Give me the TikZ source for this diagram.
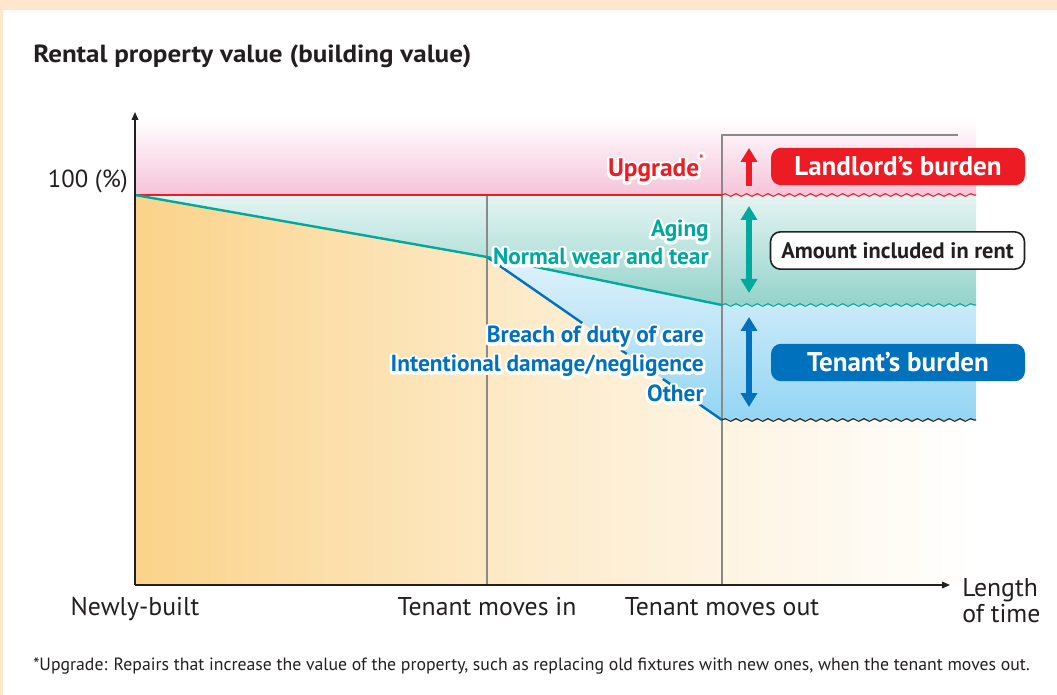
\documentclass[tikz,border=0pt]{standalone}
\usepackage{fontspec}
\setmainfont{PT Sans}
\usetikzlibrary{arrows.meta,decorations.pathmorphing}
\definecolor{peachC}{HTML}{FFE6CC}
\definecolor{redC}{HTML}{ED1C24}
\definecolor{tealC}{HTML}{00A99D}
\definecolor{blueC}{HTML}{0071BC}
\definecolor{orangeC}{HTML}{FBD38A}
\definecolor{pinkC}{HTML}{F6C3D9}
\definecolor{tealTop}{HTML}{E4F4F2}
\definecolor{tealBot}{HTML}{94D3CB}
\definecolor{blueTop}{HTML}{E0F2FB}
\definecolor{blueBot}{HTML}{93D5F3}
\definecolor{grayC}{HTML}{8A8A8A}
\definecolor{textC}{HTML}{231F20}
\newcommand\halotext[1]{\makebox[0pt][l]{\color{white}\special{pdf:literal direct 1 1 1 RG 1 1 1 rg 4 w 1 j 1 J 2 Tr}#1\special{pdf:literal direct 0 Tr 1 w}}#1}
\tikzset{
  regtext/.style={text=textC, inner sep=0pt, font=\fontsize{19.3pt}{22pt}\selectfont},
  labtext/.style={inner sep=0pt, font=\bfseries\fontsize{17.5pt}{21pt}\selectfont},
  burdenbox/.style={rounded corners=7.5pt, minimum width=190.5pt, minimum height=28pt, inner sep=0pt, font=\bfseries\fontsize{20.3pt}{21pt}\selectfont},
  axisline/.style={draw=textC, line width=1pt, -{Triangle[length=6pt,width=5pt]}},
  guide/.style={draw=grayC, line width=1.5pt},
  wave/.style={decorate, decoration={snake, segment length=8pt, amplitude=1pt}, line width=0.8pt},
  bigarrow/.style={line width=4pt, {Triangle[length=10.5pt,width=12pt]}-{Triangle[length=10.5pt,width=12pt]}},
  blueline/.style={blueC, line width=1.8pt},
  tealline/.style={tealC, line width=1.8pt},
}
\begin{document}
\begin{tikzpicture}[x=0.75pt,y=-0.75pt]
\useasboundingbox (0,0) rectangle (1057,695);
\fill[peachC] (0,0) rectangle (1057,695);
\fill[white] (3,10) rectangle (1057,695);

% regions
\shade[top color=white, bottom color=pinkC] (135,118) rectangle (976,195);
\shade[top color=tealTop, bottom color=tealBot] (135,195) -- (976,195) -- (976,305) -- (722,305) -- (487,257) -- cycle;
\shade[top color=blueTop, bottom color=blueBot] (487,257) -- (722,305) -- (976,305) -- (976,420) -- (722,420) -- cycle;
\shade[left color=orangeC, right color=white, middle color=orangeC!42] (135,195) -- (487,257) -- (722,420) -- (976,420) -- (976,585) -- (135,585) -- cycle;

% coordinates
\coordinate (O) at (135,585);
\coordinate (ytop) at (135,112);
\coordinate (xend) at (950,585);
\coordinate (P100) at (135,195);
\coordinate (Tin) at (487,257);
\coordinate (Tout) at (722,305);
\coordinate (Bout) at (722,420);
\coordinate (U) at (722,195);

% guide lines
\draw[guide] (487,195) -- (487,585);
\draw[guide] (722,585) -- (722,135) -- (958,135);

% value lines (hidden where the labels sit)
\draw[redC, line width=2.2pt] (P100) -- (U);
\draw[blueline] (Tin) -- (582.2,323);
\draw[blueline] (621.1,350) -- (626.8,354);
\draw[blueline] (662.9,379) -- (670.1,384);
\draw[blueline] (698.9,404) -- (Bout);
\draw[tealline] (P100) -- (Tin) -- (505,260.7);
\draw[tealline] (532,266.2) -- (Tout);

% waves
\draw[wave, redC] (722,195) -- (976,195);
\draw[wave, tealC] (722,305) -- (976,305);
\draw[wave, textC] (722,420) -- (976,420);

% axes
\draw[axisline] (O) -- (ytop);
\draw[axisline] (O) -- (xend);

% arrows
\draw[redC, line width=4.5pt, -{Triangle[length=10.5pt,width=12pt]}] (749,186) -- (749,148);
\draw[tealC, bigarrow] (749,293) -- (749,206);
\draw[blueC, bigarrow] (749,407) -- (749,317);

% boxes
\node[burdenbox, fill=redC, text=white] (landlord) at (898,166.5) {Landlord’s burden};
\node[burdenbox, fill=white, draw=textC, line width=1.2pt, text=textC, font=\bfseries\fontsize{16.8pt}{20pt}\selectfont] (rent) at (897.5,250.5) {Amount included in rent};
\node[burdenbox, fill=blueC, text=white] (tenant) at (898,362.5) {Tenant’s burden};

% labels
\node[labtext, text=redC, anchor=base east, font=\bfseries\fontsize{19pt}{21pt}\selectfont] (upg) at (704,177) {\halotext{Upgrade\raisebox{0.55em}{\fontsize{9pt}{9pt}\selectfont *}}};
\node[labtext, text=tealC, anchor=base east] (aging) at (709,237) {\halotext{Aging}};
\node[labtext, text=tealC, anchor=base east] (normal) at (709,265) {\halotext{Normal wear and tear}};
\node[labtext, text=blueC, anchor=base east] (breach) at (704,343) {\halotext{Breach of duty of care}};
\node[labtext, text=blueC, anchor=base east] (intent) at (704,372) {\halotext{Intentional damage/negligence}};
\node[labtext, text=blueC, anchor=base east] (other) at (704,402) {\halotext{Other}};

% texts
\node[inner sep=0pt, text=textC, anchor=base west, font=\bfseries\fontsize{18.6pt}{22pt}\selectfont\addfontfeature{FakeStretch=1.09}] (title) at (33,63) {Rental property value (building value)};
\node[regtext, anchor=base east, font=\fontsize{18.5pt}{22pt}\selectfont] (hundred) at (128,188) {100 (\%)};
\node[regtext, anchor=base] (newly) at (135,615) {Newly-built};
\node[regtext, anchor=base] (movein) at (487,615) {Tenant moves in};
\node[regtext, anchor=base] (moveout) at (722,615) {Tenant moves out};
\node[regtext, anchor=base west] (length) at (962,596) {Length};
\node[regtext, anchor=base west] (oftime) at (962,622) {of time};
\node[inner sep=0pt, text=textC, anchor=base west, font=\fontsize{13.3pt}{15pt}\selectfont] (foot) at (33,670) {*Upgrade: Repairs that increase the value of the property, such as replacing old fixtures with new ones, when the tenant moves out.};
\end{tikzpicture}
\end{document}
